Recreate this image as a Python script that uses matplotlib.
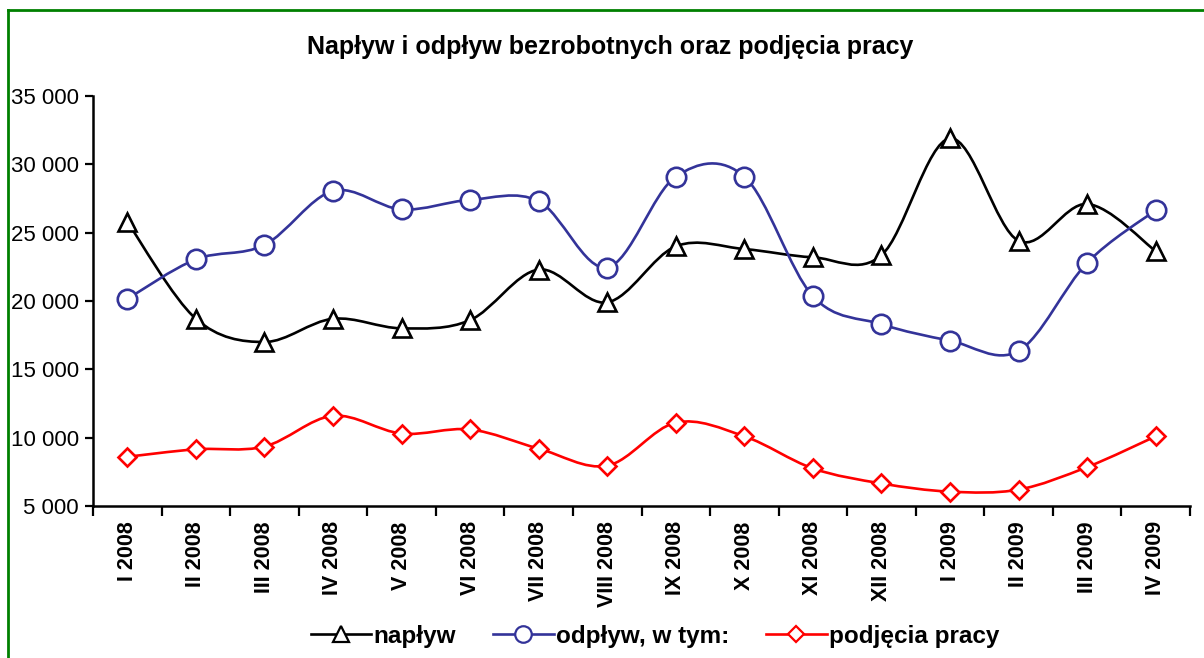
import matplotlib
matplotlib.use("Agg")
import matplotlib.pyplot as plt
from matplotlib.path import Path
from matplotlib.patches import PathPatch
from matplotlib.lines import Line2D
from matplotlib.ticker import FuncFormatter, MultipleLocator, FixedLocator
import numpy as np

plt.rcParams['font.family'] = ['Liberation Sans', 'DejaVu Sans']

title = "Napływ i odpływ bezrobotnych oraz podjęcia pracy"
categories = ["I 2008", "II 2008", "III 2008", "IV 2008", "V 2008", "VI 2008",
              "VII 2008", "VIII 2008", "IX 2008", "X 2008", "XI 2008", "XII 2008",
              "I 2009", "II 2009", "III 2009", "IV 2009"]
naplyw = [25800, 18700, 17000, 18700, 18000, 18600, 22300, 19900,
          24000, 23800, 23200, 23350, 31900, 24400, 27100, 23650]
odplyw = [20150, 23050, 24100, 28050, 26700, 27400, 27300, 22450,
          29100, 29100, 20350, 18300, 17100, 16350, 22800, 26650]
podjecia = [8600, 9150, 9350, 11600, 10300, 10600, 9200, 7950,
            11100, 10100, 7750, 6650, 6050, 6200, 7850, 10100]
labels = ["napływ", "odpływ, w tym:", "podjęcia pracy"]

W, H = 1204, 658
fig = plt.figure(figsize=(W / 100, H / 100), dpi=100)
ax = fig.add_axes([93 / W, 1 - 506 / H, (1190 - 93) / W, (506 - 96) / H])

def smooth_path(xs, ys):
    pts = np.column_stack([xs, ys]).astype(float)
    n = len(pts)
    verts = [pts[0]]
    codes = [Path.MOVETO]
    for i in range(n - 1):
        p0 = pts[i - 1] if i > 0 else pts[i]
        p1 = pts[i]
        p2 = pts[i + 1]
        p3 = pts[i + 2] if i + 2 < n else pts[i + 1]
        c1 = p1 + (p2 - p0) / 6.0
        c2 = p2 - (p3 - p1) / 6.0
        verts += [c1, c2, p2]
        codes += [Path.CURVE4] * 3
    return Path(verts, codes)

x = np.arange(len(categories))
series = [
    (naplyw, "black", "^", 13.5),
    (odplyw, "#333399", "o", 14),
    (podjecia, "#FF0000", "D", 9.5),
]
handles = []
for (vals, col, mk, ms), lab in zip(series, labels):
    patch = PathPatch(smooth_path(x, vals), facecolor="none", edgecolor=col,
                      lw=1.9, zorder=2, capstyle="round", joinstyle="round")
    ax.add_patch(patch)
    ax.plot(x, vals, linestyle="none", marker=mk, ms=ms, mfc="white",
            mec=col, mew=1.9, zorder=3, clip_on=False)
    handles.append(Line2D([], [], color=col, lw=1.9, marker=mk, ms=ms * 0.85,
                          mfc="white", mec=col, mew=1.6))

ax.set_xlim(-0.5, len(categories) - 0.5)
ax.set_ylim(5000, 35000)
ax.yaxis.set_major_locator(MultipleLocator(5000))
ax.yaxis.set_major_formatter(FuncFormatter(lambda v, p: f"{int(v):,}".replace(",", " ")))
ax.xaxis.set_major_locator(FixedLocator(x))
ax.set_xticklabels(categories, rotation=90, fontsize=15.5, fontweight="bold")
ax.xaxis.set_minor_locator(FixedLocator(np.arange(-0.5, len(categories), 1.0)))
ax.tick_params(axis="x", which="major", length=0, pad=11)
ax.tick_params(axis="x", which="minor", length=7, width=1.6, direction="out")
ax.tick_params(axis="y", which="major", length=6, width=1.6, direction="out",
               labelsize=16, pad=4)
for s in ["top", "right"]:
    ax.spines[s].set_visible(False)
for s in ["left", "bottom"]:
    ax.spines[s].set_linewidth(1.8)

fig.text(610 / W, 1 - 47 / H, title, ha="center", va="center",
         fontsize=18, fontweight="bold")

leg = fig.legend(handles, labels, loc="center", bbox_to_anchor=(655 / W, 1 - 636 / H),
                 ncol=3, frameon=False, handlelength=2.5, handletextpad=0.1,
                 columnspacing=1.5, prop={"size": 17.5, "weight": "bold"})

# green chart border
fig.add_artist(Line2D([8 / W, 8 / W], [0, 1 - 10 / H], color="#008000", lw=2,
                      transform=fig.transFigure))
fig.add_artist(Line2D([8 / W, 1], [1 - 10 / H, 1 - 10 / H], color="#008000", lw=2,
                      transform=fig.transFigure))

fig.savefig("out.png", dpi=100)
